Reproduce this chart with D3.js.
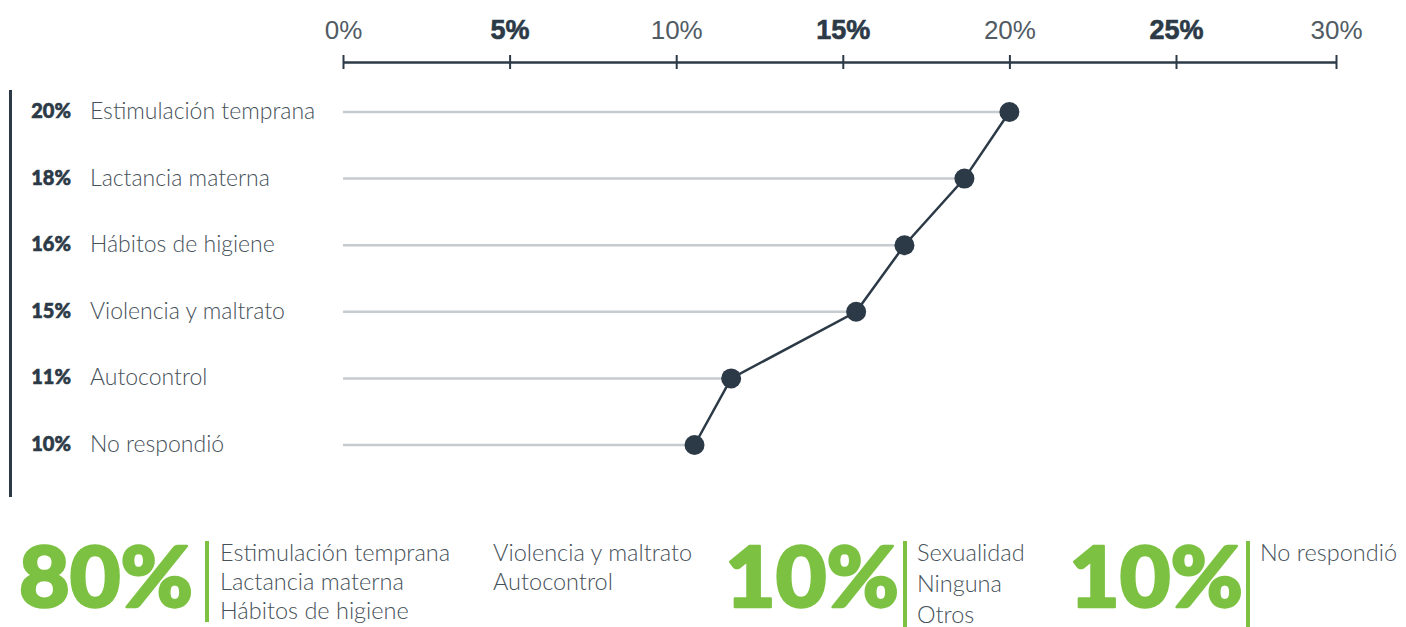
<!DOCTYPE html>
<html>
<head>
<meta charset="utf-8">
<script src="https://cdn.jsdelivr.net/npm/d3@7"></script>
<style>
  body { margin: 0; background: #fff; }
  svg { display: block; font-family: Lato, "Open Sans", sans-serif; }
</style>
</head>
<body>
<svg width="1406" height="627"></svg>
<script>
const categories = ['Estimulación temprana', 'Lactancia materna', 'Hábitos de higiene',
  'Violencia y maltrato', 'Autocontrol', 'No respondió'];
const rowLabels = ['20%', '18%', '16%', '15%', '11%', '10%'];
const values = [20, 18.65, 16.85, 15.4, 11.65, 10.55];
const tickValues = [0, 5, 10, 15, 20, 25, 30];
const boldTicks = [5, 15, 25];

const summaryPct = ['80%', '10%', '10%'];
const summaryItems = [
  [['Estimulación temprana', 'Lactancia materna', 'Hábitos de higiene'], ['Violencia y maltrato', 'Autocontrol']],
  [['Sexualidad', 'Ninguna', 'Otros']],
  [['No respondió']]
];

const dark = '#2c3a47';
const grey = '#c6cbd0';
const green = '#7cc142';
const textCol = '#465159';

const svg = d3.select('svg');

// x scale: the reference axis ends a little short at 30%
const x = d3.scaleLinear()
    .domain([0, 25, 30])
    .range([343, 1176, 1336]);

const y = d3.scalePoint()
    .domain(categories)
    .range([112, 445]);

// top axis
const axis = svg.append('g')
    .attr('transform', 'translate(0, 62)')
    .call(d3.axisTop(x)
        .tickValues(tickValues)
        .tickSize(0)
        .tickPadding(23)
        .tickFormat(d => d + '%'));

axis.select('.domain')
    .attr('stroke', dark)
    .attr('stroke-width', 2.5);

axis.selectAll('.tick text')
    .attr('fill', d => boldTicks.includes(d) ? dark : '#515b64')
    .attr('stroke', d => boldTicks.includes(d) ? dark : 'none')
    .attr('stroke-width', 0.6)
    .attr('font-size', d => boldTicks.includes(d) ? 27 : 26)
    .attr('font-weight', d => boldTicks.includes(d) ? 900 : 300);

axis.selectAll('.tick')
    .append('line')
        .attr('y1', -7)
        .attr('y2', 7)
        .attr('stroke', dark)
        .attr('stroke-width', 2);

// left bar
svg.append('line')
    .attr('x1', 10.5).attr('x2', 10.5)
    .attr('y1', 90).attr('y2', 497)
    .attr('stroke', dark)
    .attr('stroke-width', 3);

// gray guide lines
svg.append('g')
  .selectAll('line')
  .data(categories)
  .join('line')
    .attr('x1', x(0))
    .attr('x2', (d, i) => x(values[i]))
    .attr('y1', d => y(d))
    .attr('y2', d => y(d))
    .attr('stroke', grey)
    .attr('stroke-width', 2.5);

// row labels
svg.append('g')
  .selectAll('text')
  .data(rowLabels)
  .join('text')
    .attr('x', 71)
    .attr('y', (d, i) => y(categories[i]) + 6)
    .attr('text-anchor', 'end')
    .attr('font-size', 20)
    .attr('font-weight', 900)
    .attr('fill', dark)
    .attr('stroke', dark)
    .attr('stroke-width', 0.6)
    .text(d => d);

svg.append('g')
  .selectAll('text')
  .data(categories)
  .join('text')
    .attr('x', 90)
    .attr('y', d => y(d) + 7)
    .attr('font-size', 23)
    .attr('font-weight', 300)
    .attr('fill', textCol)
    .text(d => d);

// line + dots
const line = d3.line()
    .x((d, i) => x(values[i]))
    .y(d => y(d));

svg.append('path')
    .attr('d', line(categories))
    .attr('fill', 'none')
    .attr('stroke', dark)
    .attr('stroke-width', 2.5);

svg.append('g')
  .selectAll('circle')
  .data(categories)
  .join('circle')
    .attr('cx', (d, i) => x(values[i]))
    .attr('cy', d => y(d))
    .attr('r', 10)
    .attr('fill', dark);

// summary blocks at the bottom
const summaryLayout = [
  { numX: 18, barX: 205, barH: 81, textX: [220, 493], lineGap: 29 },
  { numX: 724, barX: 903, barH: 86, textX: [917], lineGap: 31 },
  { numX: 1068, barX: 1246, barH: 86, textX: [1260], lineGap: 31 }
];

summaryPct.forEach((pct, k) => {
  const lay = summaryLayout[k];
  const g = svg.append('g');

  g.append('text')
      .attr('x', lay.numX + 1)
      .attr('y', 607)
      .attr('font-size', 84)
      .attr('font-weight', 900)
      .attr('fill', green)
      .attr('stroke', green)
      .attr('stroke-width', 2.5)
      .attr('stroke-linejoin', 'round')
      .attr('textLength', 174)
      .attr('lengthAdjust', 'spacingAndGlyphs')
      .text(pct);

  g.append('rect')
      .attr('x', lay.barX)
      .attr('y', 541)
      .attr('width', 4)
      .attr('height', lay.barH)
      .attr('fill', green);

  summaryItems[k].forEach((col, c) => {
    g.append('g')
      .selectAll('text')
      .data(col)
      .join('text')
        .attr('x', lay.textX[c])
        .attr('y', (d, i) => 561 + i * lay.lineGap)
        .attr('font-size', 23.5)
        .attr('font-weight', 300)
        .attr('fill', textCol)
        .text(d => d);
  });
});
</script>
</body>
</html>
